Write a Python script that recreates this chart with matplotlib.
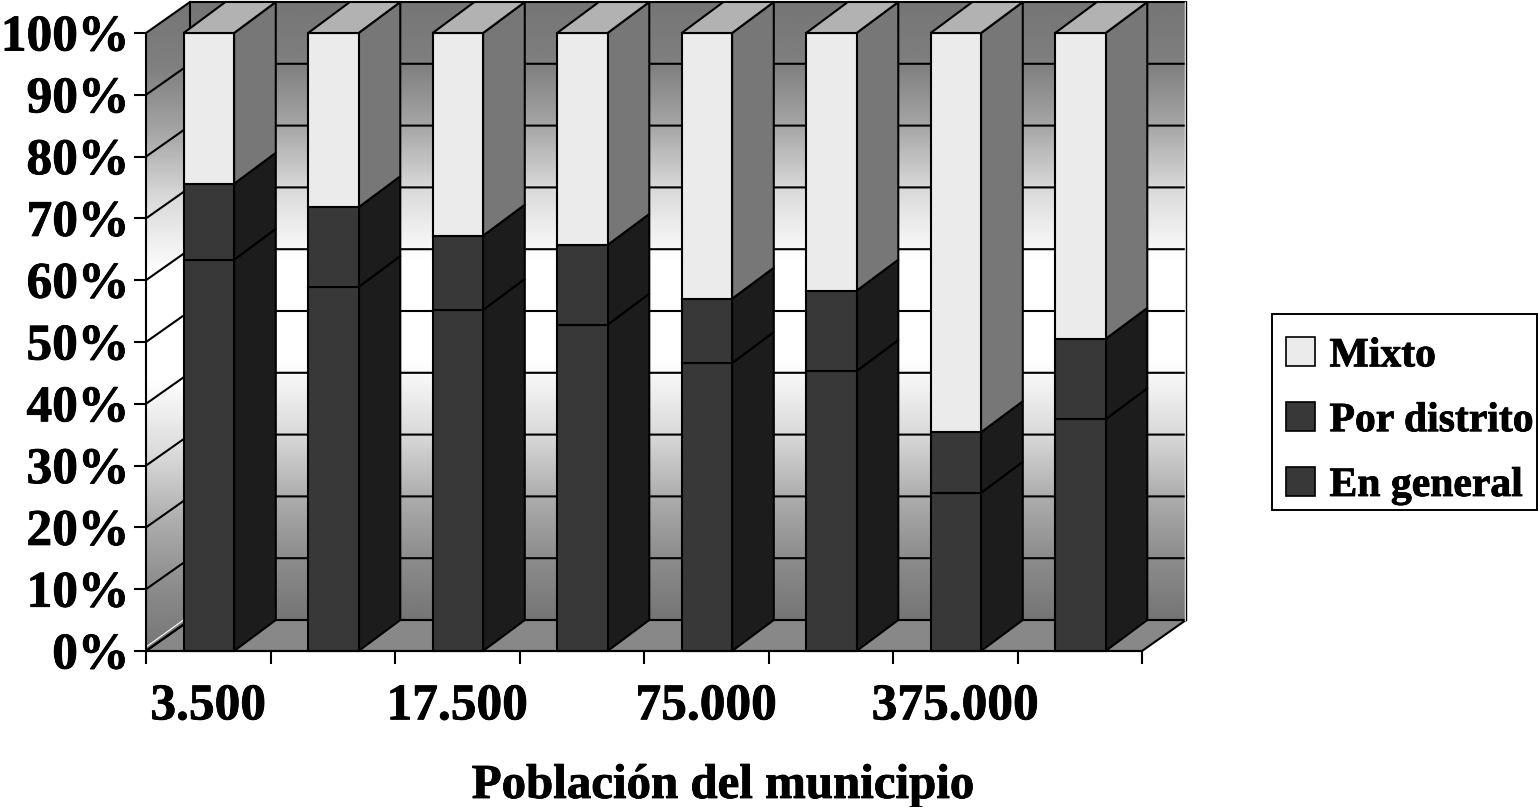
import numpy as np
import matplotlib
matplotlib.use('Agg')
import matplotlib.pyplot as plt
import matplotlib.patheffects as pe
from matplotlib.patches import Polygon, Patch, Rectangle

plt.rcParams['font.family'] = ['Liberation Serif', 'DejaVu Serif']
plt.rcParams['font.weight'] = 'bold'

# valores (%)
en_general = [63.3, 58.9, 55.2, 52.8, 46.6, 45.3, 25.6, 37.5]
por_distrito = [12.3, 12.9, 12.0, 12.9, 10.4, 13.0, 9.8, 13.0]
mixto = [24.4, 28.2, 32.8, 34.3, 43.0, 41.7, 64.6, 49.5]
etiquetas_x = ['3.500', '', '17.500', '', '75.000', '', '375.000', '']
marcas_y = [0, 10, 20, 30, 40, 50, 60, 70, 80, 90, 100]

W, H = 1538, 807
DX = 44 / 124.5   # fondo del grafico, en categorias
DY = 31 / 6.18    # fondo del grafico, en %
BAR_DX = 41.7 / 124.5
ANCHO = 0.405
LW = 1.5
grueso = [pe.withStroke(linewidth=0.6, foreground='black')]

# degradado de las paredes (arriba a abajo)
t = np.linspace(0, 1, 300)
gris = np.interp(t, [0, .1, .2, .3, .42, .58, .7, .8, .9, 1],
                 [.46, .5, .65, .85, 1, 1, .85, .68, .55, .46]).reshape(-1, 1)

fig = plt.figure(figsize=(W / 100, H / 100), dpi=100, facecolor='white')
ax = fig.add_axes([146 / W, (H - 651) / H, 996 / W, 618 / H])

n = len(en_general)

# pared del fondo
img = ax.imshow(gris, cmap='gray', vmin=0, vmax=1, aspect='auto', zorder=1,
                extent=[DX, n + DX, DY, 100 + DY])
# pared izquierda
img2 = ax.imshow(gris, cmap='gray', vmin=0, vmax=1, aspect='auto', zorder=1,
                 extent=[0, DX, 0, 100 + DY])
ax.set_xlim(0, n)
ax.set_ylim(0, 100)
img.set_clip_box(fig.bbox)
img2.set_clip_box(fig.bbox)
img.set_clip_path(Polygon([(DX, DY), (n + DX, DY), (n + DX, 100 + DY), (DX, 100 + DY)],
                          transform=ax.transData))
img2.set_clip_path(Polygon([(0, 0), (DX, DY), (DX, 100 + DY), (0, 100)],
                           transform=ax.transData))
# suelo
ax.add_patch(Polygon([(0, 0), (n, 0), (n + DX, DY), (DX, DY)], facecolor='#888888',
                     edgecolor='black', lw=LW, zorder=2, clip_on=False))

# lineas de division
for v in marcas_y:
    ax.plot([0, DX, n + DX], [v, v + DY, v + DY], color='black', lw=LW, zorder=3,
            clip_on=False, solid_joinstyle='miter')
ax.plot([DX, DX], [DY, 100 + DY], color='black', lw=LW, zorder=3, clip_on=False)
ax.plot([n + DX - 0.012, n + DX - 0.012], [DY, 100 + DY], color='white', lw=1, zorder=3, clip_on=False)
ax.plot([n + DX, n + DX], [DY, 100 + DY], color='black', lw=1, zorder=3, clip_on=False)
ax.plot([0.004, DX - 0.004], [0.7, DY + 0.7], color='white', lw=0.8, zorder=3, clip_on=False)


def cara(puntos, color):
    ax.add_patch(Polygon(puntos, closed=True, facecolor=color, edgecolor='black', lw=LW,
                         zorder=4, clip_on=False, joinstyle='miter'))


# barras apiladas
series = [(en_general, '#383838', '#1c1c1c'),
          (por_distrito, '#383838', '#1c1c1c'),
          (mixto, '#ebebeb', '#777777')]
for i in range(n):
    x0 = i + 0.505 - ANCHO / 2
    x1 = x0 + ANCHO
    base = 0
    for valores, frente, lado in series:
        tope = base + valores[i]
        cara([(x1, base), (x1 + BAR_DX, base + DY), (x1 + BAR_DX, tope + DY), (x1, tope)], lado)
        cara([(x0, base), (x1, base), (x1, tope), (x0, tope)], frente)
        base = tope
    cara([(x0, base), (x1, base), (x1 + BAR_DX, base + DY), (x0 + BAR_DX, base + DY)], '#b2b2b2')

# ejes
for s in ['top', 'right']:
    ax.spines[s].set_visible(False)
for s in ['left', 'bottom']:
    ax.spines[s].set_linewidth(LW)
    ax.spines[s].set_zorder(5)
ax.set_yticks(marcas_y)
ax.set_yticklabels([f'{v}%' for v in marcas_y], fontsize=37, fontweight='bold')
ax.set_xticks(range(n + 1))
ax.set_xticklabels([])
ax.set_xticks([i + 0.5 for i in range(n)], etiquetas_x, minor=True, fontsize=37, fontweight='bold')
ax.tick_params(axis='y', length=9, width=LW, pad=3)
ax.tick_params(axis='x', which='major', length=9, width=LW)
ax.tick_params(axis='x', which='minor', length=0, pad=24)
for lab in ax.get_yticklabels() + ax.get_xticklabels(minor=True):
    lab.set_path_effects(grueso)
fig.text(723 / W, 1 - 786 / H, 'Población del municipio', fontsize=35.2, fontweight='bold',
         ha='center', va='center', path_effects=grueso)

# leyenda
fig.add_artist(Rectangle((1272 / W, 1 - 510 / H), 265 / W, 196 / H, transform=fig.transFigure,
                         facecolor='white', edgecolor='black', lw=1.4))
handles = [Patch(facecolor='#ebebeb', edgecolor='black', lw=1.2),
           Patch(facecolor='#383838', edgecolor='black', lw=1.2),
           Patch(facecolor='#383838', edgecolor='black', lw=1.2)]
leg = fig.legend(handles, ['Mixto', 'Por distrito', 'En general'],
                 loc='upper left', bbox_to_anchor=(1272 / W, 1 - 323 / H), borderaxespad=0,
                 prop={'size': 30, 'weight': 'bold'}, frameon=False,
                 handlelength=0.7, handleheight=0.7,
                 handletextpad=0.34, labelspacing=0.64, borderpad=0.34)
for txt in leg.get_texts():
    txt.set_path_effects(grueso)

fig.savefig('out.png', dpi=100)
